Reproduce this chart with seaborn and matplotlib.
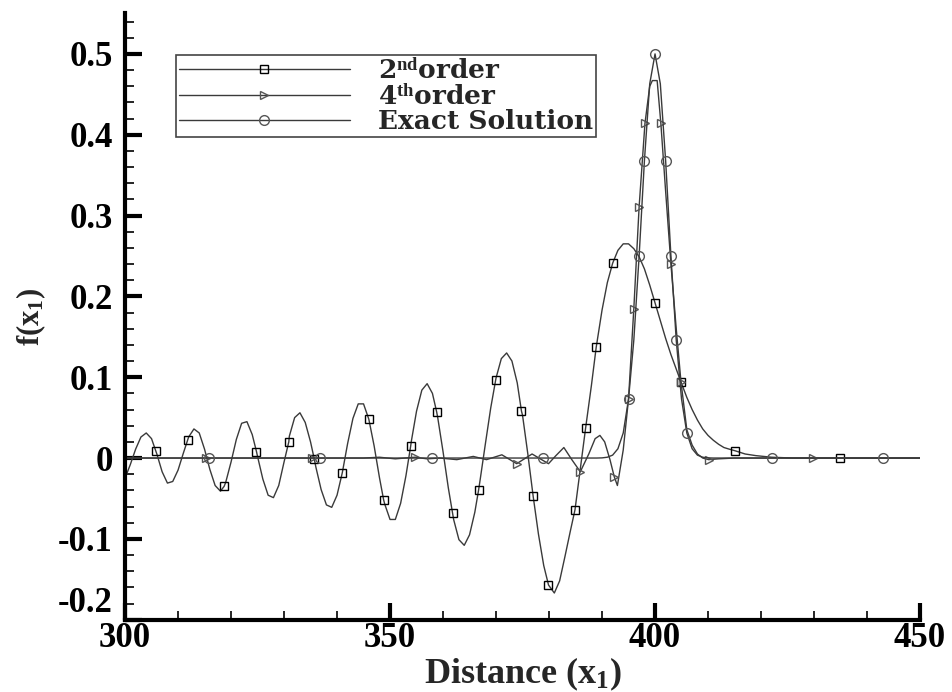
import matplotlib
matplotlib.use("Agg")
import matplotlib.pyplot as plt
import seaborn as sns
from matplotlib.lines import Line2D
from matplotlib.ticker import MultipleLocator, FuncFormatter

# ---------------- data ----------------
# 2nd-order scheme
x2 = [300, 301, 302, 303, 304, 305, 305.8, 306, 307, 308, 309, 310, 311, 311.8, 312, 313,
      314, 315, 316, 317, 318, 318.7, 319, 320, 321, 322, 323, 324, 324.8, 325, 326, 327,
      328, 329, 330, 330.9, 331, 332, 333, 334, 335, 335.7, 336, 337, 338, 339, 340, 341,
      342, 343, 344, 345, 346, 347, 348, 348.8, 349, 350, 351, 352, 353, 353.9, 354, 355,
      356, 357, 358, 358.8, 359, 360, 361, 361.8, 362, 363, 364, 365, 366, 366.7, 367, 368,
      369, 369.9, 370, 371, 372, 373, 374, 374.8, 375, 376, 377, 378, 379, 379.9, 380, 381,
      382, 383, 384, 384.9, 386, 386.9, 388, 388.9, 390, 391, 392, 393, 394, 395, 396, 397,
      398, 399, 400, 401, 402, 403, 404, 404.9, 406, 407, 408, 409, 410, 411, 412, 413, 414,
      415.1, 417, 419, 422, 426, 434.9, 450]
y2 = [-0.025, -0.008, 0.011, 0.026, 0.031, 0.024, 0.009, 0.005, -0.017, -0.031, -0.029, -0.015,
      0.006, 0.022, 0.026, 0.036, 0.031, 0.011, -0.014, -0.034, -0.041, -0.035, -0.030, -0.005,
      0.023, 0.043, 0.045, 0.029, 0.008, 0.002, -0.026, -0.046, -0.049, -0.034, -0.005, 0.020,
      0.027, 0.050, 0.056, 0.044, 0.020, -0.001, -0.011, -0.039, -0.058, -0.061, -0.046, -0.018,
      0.018, 0.049, 0.067, 0.067, 0.048, 0.015, -0.024, -0.052, -0.057, -0.076, -0.076, -0.056,
      -0.022, 0.015, 0.020, 0.058, 0.084, 0.092, 0.080, 0.057, 0.050, 0.008, -0.037, -0.068,
      -0.076, -0.101, -0.108, -0.095, -0.067, -0.040, -0.027, 0.018, 0.062, 0.096, 0.099, 0.123,
      0.130, 0.120, 0.093, 0.058, 0.053, 0.005, -0.047, -0.094, -0.133, -0.157, -0.158, -0.167,
      -0.152, -0.122, -0.091, -0.064, -0.008, 0.037, 0.090, 0.137, 0.183, 0.217, 0.241, 0.257,
      0.265, 0.265, 0.259, 0.249, 0.234, 0.214, 0.192, 0.170, 0.148, 0.128, 0.110, 0.094, 0.075,
      0.060, 0.047, 0.036, 0.028, 0.022, 0.017, 0.013, 0.011, 0.009, 0.005, 0.003, 0.001, 0.0,
      0.0, 0.0]
m2 = [305.8, 311.8, 318.7, 324.8, 330.9, 335.7, 341, 346, 348.8, 353.9, 358.8, 361.8, 366.7,
      369.9, 374.8, 377, 379.9, 384.9, 386.9, 388.9, 392, 400, 404.9, 415.1, 434.9]

# 4th-order scheme
x4 = [300, 315.3, 335.3, 345, 348, 351, 354.7, 357, 359.4, 362.6, 365.7, 368.2, 371.1, 373.9,
      376.8, 379.9, 381.3, 382.8, 384.3, 385.9, 387.5, 388.7, 389.6, 390.5, 391.5, 392.3, 392.9,
      394, 395, 396, 397, 398.1, 399, 399.5, 400.4, 401.1, 402, 403, 404, 404.9, 406, 407, 408,
      409, 410.1, 412, 415, 429.9, 450]
y4 = [0.0, 0.0, 0.0, 0.0, 0.001, -0.001, 0.001, -0.001, 0.0, -0.002, 0.002, -0.002, 0.004,
      -0.007, 0.005, -0.007, 0.003, 0.013, -0.002, -0.017, 0.005, 0.024, 0.028, 0.020, -0.002,
      -0.023, -0.034, 0.010, 0.073, 0.185, 0.311, 0.414, 0.460, 0.467, 0.467, 0.414, 0.330,
      0.240, 0.160, 0.094, 0.035, 0.016, 0.005, 0.0, -0.002, -0.001, 0.0, 0.0, 0.0]
m4 = [315.3, 335.3, 354.7, 373.9, 385.9, 392.3, 395, 396, 397, 398.1, 401.1, 403, 404.9,
      410.1, 429.9]

# exact solution
xe = [300, 315.8, 336.8, 357.9, 378.8, 389, 390, 391, 392, 393, 394, 395, 396, 397, 398, 399,
      400, 401, 402, 403, 404, 405, 406, 407, 408, 409, 410, 411, 422, 443, 450]
ye = [0.0, 0.0, 0.0, 0.0, 0.0, 0.0, 0.0002, 0.001, 0.0036, 0.0115, 0.031, 0.073, 0.146, 0.250,
      0.368, 0.463, 0.5, 0.463, 0.368, 0.250, 0.146, 0.073, 0.031, 0.0115, 0.0036, 0.001,
      0.0002, 0.0, 0.0, 0.0, 0.0]
me = [315.8, 336.8, 357.9, 378.8, 395, 397, 398, 400, 402, 403, 404, 406, 422, 443]

labels = ["2$^{nd}$order", "4$^{th}$order", "Exact Solution"]
x_ticks = [300, 350, 400, 450]
y_ticks = [-0.2, -0.1, 0.0, 0.1, 0.2, 0.3, 0.4, 0.5]

# ---------------- style ----------------
sns.set_theme(style="ticks")
plt.rcParams["font.family"] = ["Liberation Serif", "DejaVu Serif"]
plt.rcParams["font.weight"] = "bold"
plt.rcParams["mathtext.fontset"] = "custom"
plt.rcParams["mathtext.rm"] = "Liberation Serif:bold"
plt.rcParams["mathtext.it"] = "Liberation Serif:bold"
plt.rcParams["mathtext.bf"] = "Liberation Serif:bold"
plt.rcParams["mathtext.default"] = "rm"

fig = plt.figure(figsize=(9.53, 6.92), dpi=100)
ax = fig.add_axes([0.1312, 0.1045, 0.8342, 0.876])

line_col = "#3a3a3a"
specs = [
    (x2, y2, m2, "s", 6.0, "black"),
    (x4, y4, m4, ">", 6.0, "#555555"),
    (xe, ye, me, "o", 7.0, "#555555"),
]
handles = []
for (xs, ys, ms, mk, msz, mec), lab in zip(specs, labels):
    every = [xs.index(v) for v in ms]
    sns.lineplot(x=xs, y=ys, ax=ax, estimator=None, sort=False, color=line_col,
                 linewidth=1.0, marker=mk, markevery=every, markersize=msz,
                 markerfacecolor="none", markeredgecolor=mec, markeredgewidth=1.0)
    handles.append(Line2D([], [], color=line_col, lw=1.0, marker=mk, markersize=msz,
                          markerfacecolor="none", markeredgecolor=mec,
                          markeredgewidth=1.0))

ax.set_xlim(300, 450)
ax.set_ylim(-0.2, 0.55)
ax.set_xticks(x_ticks)
ax.set_yticks(y_ticks)
ax.xaxis.set_minor_locator(MultipleLocator(10))
ax.yaxis.set_minor_locator(MultipleLocator(0.02))
ax.yaxis.set_major_formatter(FuncFormatter(lambda v, p: "0" if abs(v) < 1e-9 else f"{v:.1f}"))
ax.xaxis.set_major_formatter(FuncFormatter(lambda v, p: f"{v:.0f}"))

for s in ["top", "right"]:
    ax.spines[s].set_visible(False)
for s in ["left", "bottom"]:
    ax.spines[s].set_linewidth(3.0)
    ax.spines[s].set_color("black")

ax.tick_params(which="major", direction="in", length=12, width=3, color="black",
               labelsize=25, labelcolor="black")
ax.tick_params(which="minor", direction="in", length=6.5, width=1.2, color="black")
ax.tick_params(axis="y", which="major", pad=9)
ax.tick_params(axis="x", which="major", pad=2)
# lowest y label sits just above the x axis line, as in the reference
ax.yaxis.get_major_ticks()[0].label1.set_verticalalignment("bottom")

ax.set_xlabel("Distance (x$_1$)", fontsize=26, fontweight="bold", labelpad=0)
ax.set_ylabel("f(x$_1$)", fontsize=22, fontweight="bold", labelpad=7)

leg = ax.legend(handles, labels, loc="upper left", bbox_to_anchor=(0.064, 0.9315),
                borderaxespad=0, frameon=True, fancybox=False,
                prop={"family": "DejaVu Serif", "weight": "bold", "size": 19},
                handlelength=6.5, handletextpad=1.05, labelspacing=0.0,
                borderpad=0.1, numpoints=1)
leg.get_frame().set_edgecolor("#444444")
leg.get_frame().set_linewidth(1.2)
leg.get_frame().set_alpha(1)

fig.savefig("out.png", dpi=100)
